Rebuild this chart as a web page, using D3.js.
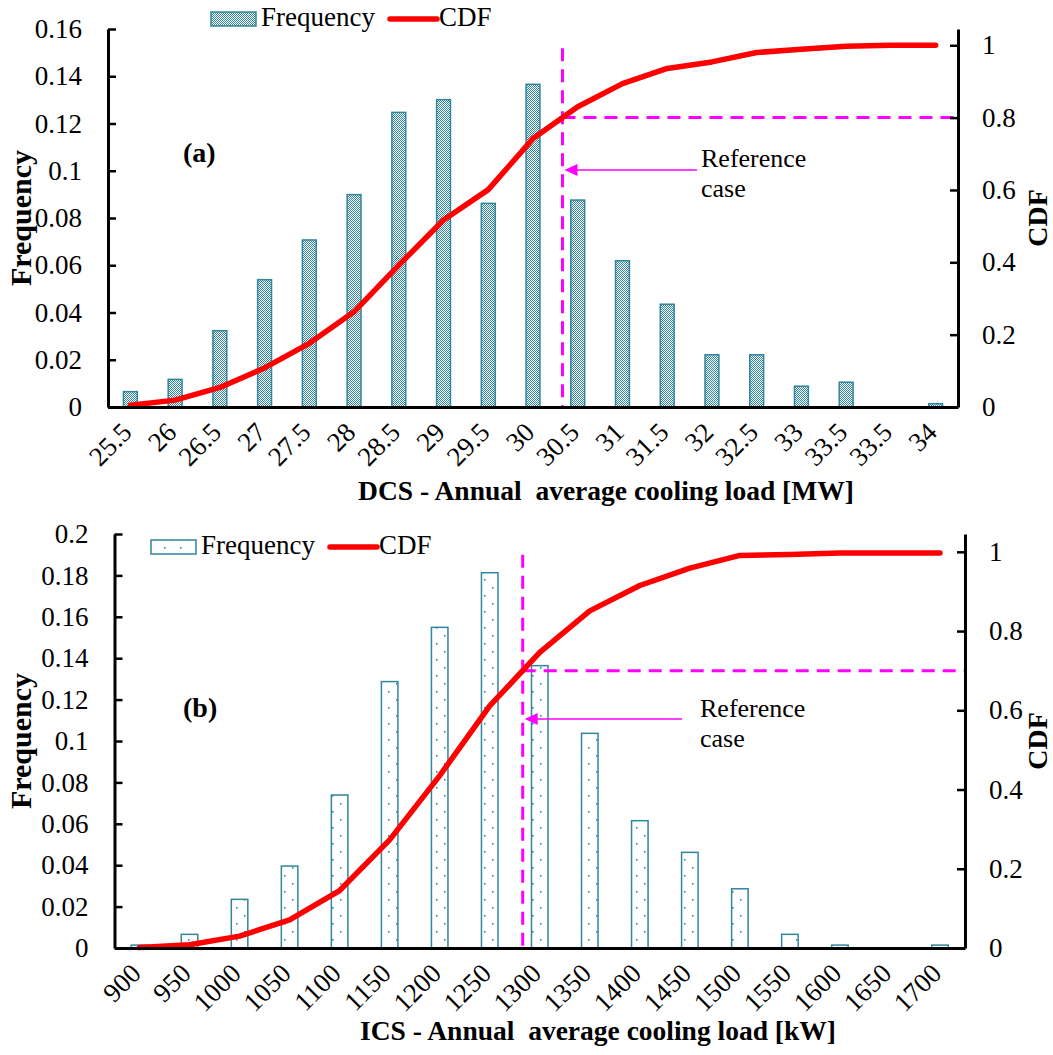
<!DOCTYPE html>
<html>
<head>
<meta charset="utf-8">
<script src="https://cdn.jsdelivr.net/npm/d3@7"></script>
<style>
  body { margin: 0; background: #fff; }
  svg text { font-family: 'Liberation Serif', 'DejaVu Serif', 'Times New Roman', serif; }
  .title { white-space: pre; }
</style>
</head>
<body>
<svg id="chart" width="1053" height="1055"></svg>
<script>
/* global d3 */

// (a) DCS - annual average cooling load [MW]
const DCS_LOADS = ['25.5', '26', '26.5', '27', '27.5', '28', '28.5', '29', '29.5', '30',
  '30.5', '31', '31.5', '32', '32.5', '33', '33.5', '33.5', '34']
const DCS_FREQUENCY = [0.0065, 0.0117, 0.0323, 0.0539, 0.0707, 0.0899, 0.1247, 0.1301, 0.0862, 0.1366,
  0.0876, 0.0619, 0.0435, 0.0221, 0.0221, 0.0088, 0.0105, 0, 0.0014]
const DCS_CDF = [0.005, 0.019, 0.054, 0.108, 0.176, 0.263, 0.392, 0.517, 0.601, 0.742,
  0.830, 0.894, 0.936, 0.954, 0.980, 0.989, 0.997, 1, 1]
const DCS_FREQ_TICKS = [0, 0.02, 0.04, 0.06, 0.08, 0.1, 0.12, 0.14, 0.16]
const DCS_REF_CDF = 0.8

// (b) ICS - annual average cooling load [kW]
const ICS_LOADS = ['900', '950', '1000', '1050', '1100', '1150', '1200', '1250', '1300',
  '1350', '1400', '1450', '1500', '1550', '1600', '1650', '1700']
const ICS_FREQUENCY = [0.0014, 0.0066, 0.0235, 0.0396, 0.0739, 0.1287, 0.1549, 0.1813, 0.1364,
  0.1037, 0.0615, 0.0462, 0.0286, 0.0066, 0.0014, 0, 0.0014]
const ICS_CDF = [0.001, 0.008, 0.030, 0.071, 0.145, 0.273, 0.435, 0.611, 0.746,
  0.851, 0.915, 0.959, 0.991, 0.993, 0.997, 0.997, 0.997]
const ICS_FREQ_TICKS = [0, 0.02, 0.04, 0.06, 0.08, 0.1, 0.12, 0.14, 0.16, 0.18, 0.2]
const ICS_REF_CDF = 0.7

const CDF_TICKS = [0, 0.2, 0.4, 0.6, 0.8, 1]
const CDF_TOP = 1.045

const TEAL = '#31859C'
const FONT = "'Liberation Serif', 'DejaVu Serif', 'Times New Roman', serif"
const FONT_SIZE = 27

const svg = d3.select('#chart')
const defs = svg.append('defs')

// checkered fill for (a)
const checker = defs.append('pattern')
  .attr('id', 'checker').attr('patternUnits', 'userSpaceOnUse')
  .attr('width', 2).attr('height', 2)
checker.append('rect').attr('width', 2).attr('height', 2).attr('fill', '#fff')
checker.append('rect').attr('width', 1).attr('height', 1).attr('fill', TEAL)
checker.append('rect').attr('x', 1).attr('y', 1).attr('width', 1).attr('height', 1).attr('fill', TEAL)

// sparse dots for (b)
const dots = defs.append('pattern')
  .attr('id', 'dots').attr('patternUnits', 'userSpaceOnUse')
  .attr('width', 16).attr('height', 16)
dots.append('rect').attr('width', 16).attr('height', 16).attr('fill', '#fff')
dots.append('rect').attr('x', 4).attr('y', 3).attr('width', 1.6).attr('height', 1.6).attr('fill', TEAL)
dots.append('rect').attr('x', 12).attr('y', 11).attr('width', 1.6).attr('height', 1.6).attr('fill', TEAL)

function drawPanel (cfg) {
  const { box, loads, freq, cdf, freqTicks, refCdf, fill, pad } = cfg
  const g = svg.append('g').attr('font-family', FONT)

  const x = d3.scaleBand()
    .domain(d3.range(loads.length))
    .range([box.left, box.right])
    .paddingInner(pad)
    .paddingOuter(pad / 2)
  const cx = i => x(i) + x.bandwidth() / 2

  const yL = d3.scaleLinear()
    .domain([0, freqTicks[freqTicks.length - 1]])
    .range([box.bottom, box.top])
  const yR = d3.scaleLinear()
    .domain([0, CDF_TOP])
    .range([box.bottom, box.top])

  // frequency bars (empty bins are skipped)
  const bins = freq.map((v, i) => ({ v, i })).filter(d => d.v > 0)
  g.append('g').selectAll('rect')
    .data(bins)
    .join('rect')
    .attr('x', d => x(d.i))
    .attr('width', x.bandwidth())
    .attr('y', d => yL(d.v))
    .attr('height', d => yL(0) - yL(d.v))
    .attr('fill', `url(#${fill})`)
    .attr('stroke', TEAL)
    .attr('stroke-width', 1.5)

  // where the CDF reaches the reference level
  let k = 0
  while (k < cdf.length - 1 && cdf[k + 1] < refCdf) k++
  const frac = (refCdf - cdf[k]) / (cdf[k + 1] - cdf[k])
  const refX = cx(k) + frac * x.step()

  g.append('line') // vertical reference
    .attr('x1', refX).attr('x2', refX)
    .attr('y1', yR(1) + 3).attr('y2', box.bottom + cfg.refDrop)
    .attr('stroke', '#FF00FF').attr('stroke-width', 3).attr('stroke-dasharray', '13,8')
  g.append('line') // horizontal reference
    .attr('x1', refX).attr('x2', box.right)
    .attr('y1', yR(refCdf)).attr('y2', yR(refCdf))
    .attr('stroke', '#FF00FF').attr('stroke-width', 3).attr('stroke-dasharray', '13,8')

  // arrow + text
  const ay = cfg.arrow.y
  g.append('line')
    .attr('x1', cfg.arrow.x1).attr('x2', refX + 12)
    .attr('y1', ay).attr('y2', ay)
    .attr('stroke', '#FF00FF').attr('stroke-width', 1.5)
  g.append('path')
    .attr('d', `M${refX + 2},${ay} L${refX + 15},${ay - 6} L${refX + 15},${ay + 6} Z`)
    .attr('fill', '#FF00FF')
  const note = g.append('text')
    .attr('font-size', 26)
    .attr('fill', '#000')
  note.append('tspan').attr('x', cfg.note.x).attr('y', cfg.note.y).text('Reference')
  note.append('tspan').attr('x', cfg.note.x).attr('y', cfg.note.y + 30).text('case')

  // CDF line
  g.append('path')
    .datum(cdf)
    .attr('fill', 'none')
    .attr('stroke', '#FF0000')
    .attr('stroke-width', 5.5)
    .attr('stroke-linejoin', 'round')
    .attr('stroke-linecap', 'round')
    .attr('d', d3.line().x((d, i) => cx(i)).y(d => yR(d)))

  // axes
  const styleAxis = (a) => {
    a.attr('font-family', FONT).attr('font-size', FONT_SIZE)
    a.select('.domain').attr('stroke', '#000').attr('stroke-width', 3)
    a.selectAll('.tick line').attr('stroke', '#000').attr('stroke-width', 2.5)
    a.selectAll('.tick text').attr('fill', '#000')
  }

  g.append('g')
    .attr('transform', `translate(${box.left},0)`)
    .call(d3.axisLeft(yL).tickValues(freqTicks).tickFormat(d3.format('~g'))
      .tickSize(-8).tickSizeOuter(0).tickPadding(26))
    .call(styleAxis)

  g.append('g')
    .attr('transform', `translate(${box.right},0)`)
    .call(d3.axisRight(yR).tickValues(CDF_TICKS).tickFormat(d3.format('~g'))
      .tickSize(-8).tickSizeOuter(0).tickPadding(24))
    .call(styleAxis)

  const xa = g.append('g')
    .attr('transform', `translate(0,${box.bottom})`)
    .call(d3.axisBottom(x).tickFormat(i => loads[i]).tickSize(0).tickSizeOuter(0))
    .call(styleAxis)
  xa.selectAll('.tick text')
    .attr('x', null).attr('y', null).attr('dy', null)
    .attr('text-anchor', 'end')
    .attr('transform', 'translate(3,27) rotate(-45)')

  // titles
  g.append('text')
    .attr('transform', `translate(31,${(box.top + box.bottom) / 2}) rotate(-90)`)
    .attr('text-anchor', 'middle')
    .attr('font-size', 30).attr('font-weight', 'bold')
    .text('Frequency')
  g.append('text')
    .attr('transform', `translate(1047,${(box.top + box.bottom) / 2}) rotate(-90)`)
    .attr('text-anchor', 'middle')
    .attr('font-size', 28).attr('font-weight', 'bold')
    .text('CDF')
  g.append('text')
    .attr('class', 'title')
    .attr('x', cfg.xTitle.x).attr('y', cfg.xTitle.y)
    .attr('text-anchor', 'middle')
    .attr('font-size', 27.5).attr('font-weight', 'bold')
    .text(cfg.xTitle.text)
  g.append('text')
    .attr('x', 183).attr('y', cfg.tagY)
    .attr('font-size', 28).attr('font-weight', 'bold')
    .text(cfg.tag)

  // legend
  const lg = cfg.legend
  g.append('rect')
    .attr('x', lg.x).attr('y', lg.y).attr('width', 45).attr('height', 14)
    .attr('fill', `url(#${fill})`).attr('stroke', TEAL).attr('stroke-width', 1.5)
  g.append('text')
    .attr('x', lg.x + 50).attr('y', lg.y + 14)
    .attr('font-size', FONT_SIZE)
    .text('Frequency')
  g.append('line')
    .attr('x1', lg.x + 179).attr('x2', lg.x + 226)
    .attr('y1', lg.y + 7).attr('y2', lg.y + 7)
    .attr('stroke', '#FF0000').attr('stroke-width', 5.5).attr('stroke-linecap', 'round')
  g.append('text')
    .attr('x', lg.x + 228).attr('y', lg.y + 14)
    .attr('font-size', FONT_SIZE)
    .text('CDF')
}

drawPanel({
  box: { left: 108, right: 958, top: 29, bottom: 407 },
  loads: DCS_LOADS,
  freq: DCS_FREQUENCY,
  cdf: DCS_CDF,
  freqTicks: DCS_FREQ_TICKS,
  refCdf: DCS_REF_CDF,
  fill: 'checker',
  pad: 0.69,
  refDrop: 0,
  arrow: { x1: 697, y: 170 },
  note: { x: 701, y: 167 },
  xTitle: { x: 606, y: 500, text: 'DCS - Annual  average cooling load [MW]' },
  tag: '(a)',
  tagY: 162,
  legend: { x: 211, y: 12 }
})

drawPanel({
  box: { left: 114.5, right: 965, top: 534, bottom: 948 },
  loads: ICS_LOADS,
  freq: ICS_FREQUENCY,
  cdf: ICS_CDF,
  freqTicks: ICS_FREQ_TICKS,
  refCdf: ICS_REF_CDF,
  fill: 'dots',
  pad: 0.67,
  refDrop: 4,
  arrow: { x1: 682, y: 719 },
  note: { x: 700, y: 717 },
  xTitle: { x: 598, y: 1040, text: 'ICS - Annual  average cooling load [kW]' },
  tag: '(b)',
  tagY: 717,
  legend: { x: 151, y: 540 }
})
</script>
</body>
</html>
